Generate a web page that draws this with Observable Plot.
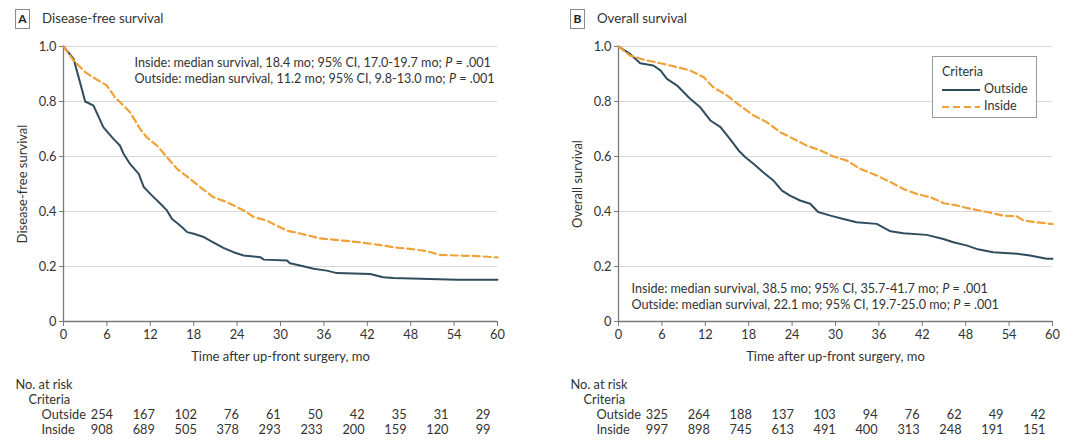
<!DOCTYPE html>
<html><head><meta charset="utf-8">
<script src="https://cdn.jsdelivr.net/npm/d3@7"></script>
<script src="https://cdn.jsdelivr.net/npm/@observablehq/plot@0.6"></script>
<style>
body{margin:0;background:#fff;font-family:Lato,sans-serif;color:#333}
#wrap{position:relative;width:1080px;height:447px;overflow:hidden}
.panel{position:absolute;top:0;height:447px}
.tag{position:absolute;left:15px;top:9px;width:13px;height:18px;border:1px solid #8a8a8a;font:bold 12px Lato,sans-serif;text-align:center;line-height:18px;color:#222}
.title{position:absolute;left:42px;top:9px;font:13.3px Lato,sans-serif;line-height:19px;color:#333}
.plot{position:absolute;left:0;top:30px}
.risk{position:absolute;left:0;top:372px}
.legend{position:absolute;border:1px solid #9a9a9a;background:#fff;font:12.6px Lato,sans-serif;color:#333}
.legend div{height:17px;line-height:17px;white-space:nowrap}
.legend svg{vertical-align:middle;margin-right:4px}
</style>
</head><body>
<div id="wrap"></div>
<script>
// ---- data ----
const xTicks = [0, 6, 12, 18, 24, 30, 36, 42, 48, 54, 60];
const yTicks = [0, 0.2, 0.4, 0.6, 0.8, 1.0];
const groups = ["Outside", "Inside"];

// Panel A: disease-free survival (time in months, survival probability)
const dfsOutsideT = [0, 1.4, 3, 4.15, 5.5, 6.9, 7.8, 8.3, 9.2, 10.4, 11.1, 12, 13.4, 14.3, 15, 15.7, 16.4, 17.1, 18, 19.4, 20.7, 22.1, 23.5, 24.9, 27.2, 27.7, 30.9, 31.3, 32.7, 34.6, 36.4, 37.8, 42.4, 44.2, 45.6, 54.4, 60];
const dfsOutsideS = [1, 0.955, 0.80, 0.785, 0.707, 0.664, 0.64, 0.61, 0.573, 0.537, 0.489, 0.464, 0.428, 0.404, 0.373, 0.358, 0.343, 0.325, 0.319, 0.307, 0.288, 0.268, 0.252, 0.24, 0.234, 0.225, 0.222, 0.212, 0.204, 0.192, 0.185, 0.176, 0.173, 0.161, 0.158, 0.152, 0.152];
const dfsInsideT = [0, 1.4, 3, 4.1, 6, 7.1, 8.3, 9.2, 10.6, 11.5, 12.9, 14.3, 15.7, 17.1, 18.9, 20.7, 22.6, 24.9, 26.3, 28.1, 30.9, 32.7, 35.5, 38.7, 41, 43.8, 45.6, 47.9, 50.2, 52.1, 57.1, 60];
const dfsInsideS = [1, 0.949, 0.907, 0.888, 0.858, 0.816, 0.785, 0.761, 0.70, 0.67, 0.64, 0.598, 0.555, 0.527, 0.489, 0.452, 0.434, 0.404, 0.38, 0.367, 0.33, 0.32, 0.302, 0.294, 0.288, 0.278, 0.27, 0.264, 0.256, 0.242, 0.238, 0.233];

// Panel B: overall survival
const osOutsideT = [0, 1.6, 3, 4.8, 5.8, 6.7, 8.1, 9.9, 11.3, 12.7, 14.1, 15.4, 16.6, 17.5, 18.7, 20, 21.4, 22.6, 23.7, 25.1, 26.5, 27.6, 29.3, 31.1, 32.9, 35.7, 37.6, 39.4, 42.6, 44.9, 46.3, 48.2, 49.5, 51.8, 55.1, 56.9, 59.2, 60];
const osOutsideS = [1, 0.973, 0.939, 0.931, 0.913, 0.882, 0.858, 0.81, 0.779, 0.731, 0.707, 0.664, 0.622, 0.598, 0.573, 0.543, 0.513, 0.476, 0.458, 0.44, 0.428, 0.398, 0.385, 0.373, 0.361, 0.355, 0.328, 0.321, 0.315, 0.30, 0.288, 0.276, 0.264, 0.252, 0.246, 0.24, 0.228, 0.228];
const osInsideT = [0, 1.6, 3.5, 5.8, 8.1, 9.9, 11.8, 13.1, 15, 16.8, 18.7, 20.5, 22.4, 24.2, 26, 27.9, 29.7, 31.6, 33.4, 35.7, 37.6, 39.4, 41.2, 43.1, 45, 46.8, 48.6, 51, 53.2, 55.1, 56, 59.7, 60];
const osInsideS = [1, 0.967, 0.952, 0.939, 0.925, 0.913, 0.888, 0.852, 0.822, 0.785, 0.749, 0.725, 0.688, 0.664, 0.64, 0.622, 0.60, 0.585, 0.555, 0.531, 0.507, 0.482, 0.464, 0.452, 0.43, 0.422, 0.41, 0.398, 0.385, 0.382, 0.367, 0.355, 0.355];

// Numbers at risk
const riskTimes = [0, 6, 12, 18, 24, 30, 36, 42, 48, 54];
const dfsRiskOutside = [254, 167, 102, 76, 61, 50, 42, 35, 31, 29];
const dfsRiskInside = [908, 689, 505, 378, 293, 233, 200, 159, 120, 99];
const osRiskOutside = [325, 264, 188, 137, 103, 94, 76, 62, 49, 42];
const osRiskInside = [997, 898, 745, 613, 491, 400, 313, 248, 191, 151];

const dfsNotes = [
  "Inside: median survival, 18.4 mo; 95% CI, 17.0-19.7 mo; P = .001",
  "Outside: median survival, 11.2 mo; 95% CI, 9.8-13.0 mo; P = .001"
];
const osNotes = [
  "Inside: median survival, 38.5 mo; 95% CI, 35.7-41.7 mo; P = .001",
  "Outside: median survival, 22.1 mo; 95% CI, 19.7-25.0 mo; P = .001"
];

// ---- styles ----
const COL = {Outside: "#2f4d5d", Inside: "#f0a236"};
const FONT = "Lato, sans-serif";

function pairs(ts, ss) { return ts.map((t, i) => ({t, s: ss[i]})); }

function italicP(svg) {
  d3.select(svg).selectAll("text").each(function () {
    const tx = this.textContent;
    if (tx.includes("; P = ")) {
      const [a, b] = tx.split("; P = ");
      this.textContent = "";
      const el = d3.select(this);
      el.append("tspan").text(a + "; ");
      el.append("tspan").attr("font-style", "italic").text("P");
      el.append("tspan").text(" = " + b);
    }
  });
}

function panel(cfg) {
  const div = document.createElement("div");
  div.className = "panel";
  div.style.left = cfg.left + "px";
  div.style.width = cfg.width + "px";
  document.getElementById("wrap").appendChild(div);

  div.insertAdjacentHTML("beforeend", `<div class="tag">${cfg.tag}</div><div class="title">${cfg.title}</div>`);

  const outside = pairs(cfg.outT, cfg.outS);
  const inside = pairs(cfg.inT, cfg.inS);

  const plot = Plot.plot({
    width: cfg.width,
    height: 335,
    marginTop: 16,
    marginBottom: 44,
    marginLeft: 63,
    marginRight: cfg.width - 497,
    style: {fontFamily: FONT, fontSize: "12.8px", color: "#333", background: "transparent", overflow: "visible"},
    x: {domain: [0, 60]},
    y: {domain: [0, 1]},
    marks: [
      Plot.gridY(yTicks.filter(d => d > 0), {stroke: "#d6d6d6", strokeOpacity: 1, strokeWidth: 1}),
      Plot.axisX({ticks: xTicks, tickSize: 5, tickPadding: 3, label: null, stroke: "#7a7a7a", fill: "#333"}),
      Plot.axisY({ticks: yTicks, tickSize: 4, tickPadding: 3, label: null, stroke: "#7a7a7a", fill: "#333",
        tickFormat: d => d === 0 ? "0" : d.toFixed(1)}),
      Plot.ruleX([0], {y1: 0, y2: 1, stroke: "#7a7a7a", strokeWidth: 1.3}),
      Plot.ruleY([0], {stroke: "#7a7a7a", strokeWidth: 1.3}),
      Plot.line(outside, {x: "t", y: "s", stroke: COL.Outside, strokeWidth: 2}),
      Plot.line(inside, {x: "t", y: "s", stroke: COL.Inside, strokeWidth: 2.2, strokeDasharray: "7,4"}),
      ...cfg.notes.map((note, i) => Plot.text([note], {frameAnchor: cfg.noteAnchor, textAnchor: "start",
        dx: cfg.noteDx, dy: cfg.noteDy[i], fill: "#333", lineAnchor: "middle", fontSize: 12.6})),
      Plot.text([cfg.ylabel], {frameAnchor: "left", rotate: -90, dx: -41, textAnchor: "middle", lineAnchor: "middle", fill: "#333", fontSize: 13}),
      Plot.text(["Time after up-front surgery, mo"], {frameAnchor: "bottom", dy: 35, textAnchor: "middle", lineAnchor: "middle", fill: "#333", fontSize: 13})
    ]
  });
  italicP(plot);
  plot.classList.add("plot");
  div.appendChild(plot);

  // number at risk table
  const riskRows = ["No. at risk", "Criteria", "Outside", "Inside"];
  const riskData = [
    ...riskTimes.map((t, i) => ({t, row: "Outside", n: cfg.riskOut[i]})),
    ...riskTimes.map((t, i) => ({t, row: "Inside", n: cfg.riskIn[i]}))
  ];
  const firstX = 112.5, lastX = 490;
  const risk = Plot.plot({
    width: cfg.width,
    height: 70,
    marginTop: 11,
    marginBottom: 12,
    marginLeft: firstX,
    marginRight: cfg.width - lastX,
    style: {fontFamily: FONT, fontSize: "12.8px", color: "#333", background: "transparent", overflow: "visible"},
    x: {domain: [0, 54], axis: null},
    y: {type: "point", domain: riskRows, padding: 0, axis: null},
    marks: [
      Plot.text(riskData, {x: "t", y: "row", text: d => String(d.n), textAnchor: "end", fill: "#333"}),
      Plot.text(["No. at risk"], {y: d => d, frameAnchor: "left", dx: 15 - firstX, textAnchor: "start", fill: "#333"}),
      Plot.text(["Criteria"], {y: d => d, frameAnchor: "left", dx: 28 - firstX, textAnchor: "start", fill: "#333"}),
      Plot.text(groups, {y: d => d, frameAnchor: "left", dx: 41 - firstX, textAnchor: "start", fill: "#333"})
    ]
  });
  risk.classList.add("risk");
  div.appendChild(risk);

  if (cfg.legend) {
    const lg = document.createElement("div");
    lg.className = "legend";
    lg.style.left = "377px"; lg.style.top = "56px"; lg.style.width = "103px"; lg.style.height = "60px";
    const sample = g => `<svg width="38" height="6"><line x1="0" x2="38" y1="3" y2="3" stroke="${COL[g]}" stroke-width="2"${g === "Inside" ? ' stroke-dasharray="7,4"' : ""}/></svg>`;
    lg.innerHTML = `<div style="margin:6px 0 0 9px">Criteria</div>` +
      groups.map(g => `<div style="margin-left:9px">${sample(g)}${g}</div>`).join("");
    div.appendChild(lg);
  }
}

panel({left: 0, width: 555, tag: "A", title: "Disease-free survival", ylabel: "Disease-free survival",
  outT: dfsOutsideT, outS: dfsOutsideS, inT: dfsInsideT, inS: dfsInsideS,
  notes: dfsNotes, noteAnchor: "top-left", noteDx: 71, noteDy: [16, 32],
  riskOut: dfsRiskOutside, riskIn: dfsRiskInside, legend: false});
panel({left: 555, width: 525, tag: "B", title: "Overall survival", ylabel: "Overall survival",
  outT: osOutsideT, outS: osOutsideS, inT: osInsideT, inS: osInsideS,
  notes: osNotes, noteAnchor: "bottom-left", noteDx: 13, noteDy: [-33, -17],
  riskOut: osRiskOutside, riskIn: osRiskInside, legend: true});
</script>
</body></html>
